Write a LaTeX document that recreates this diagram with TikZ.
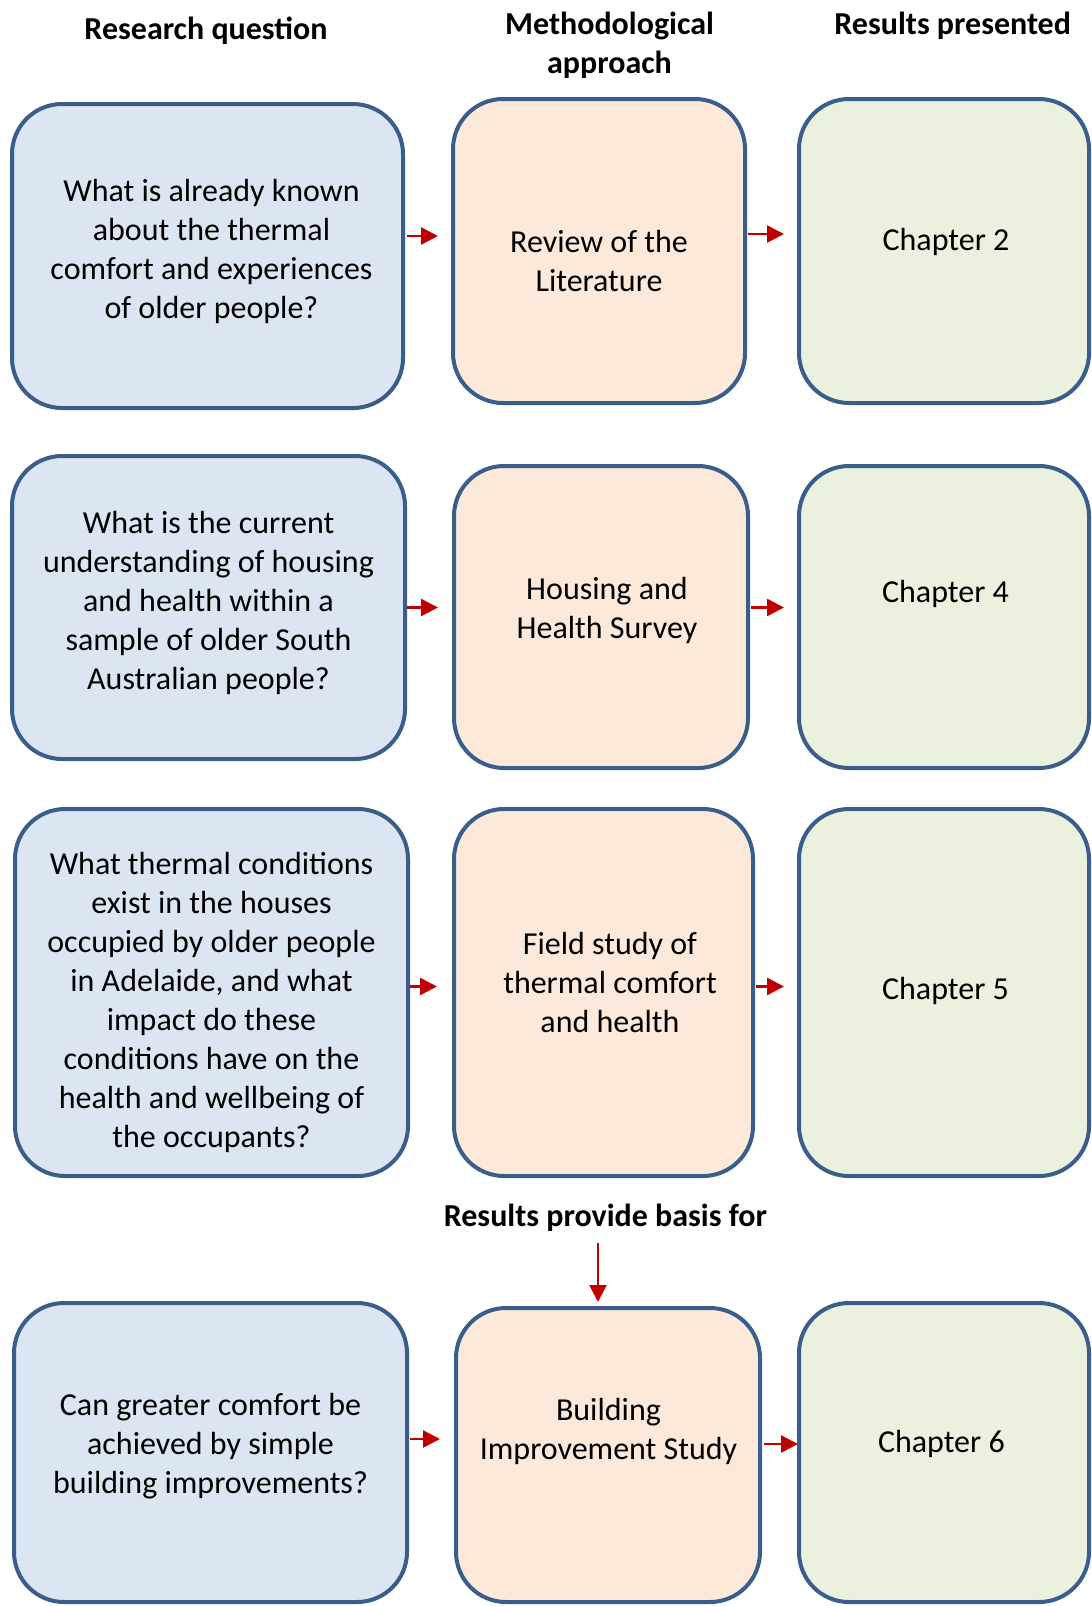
\documentclass[tikz,border=0pt]{standalone}
\usepackage{fontspec}
\setmainfont{Carlito}
\usetikzlibrary{arrows.meta}
\definecolor{bordc}{HTML}{3A5E8C}
\definecolor{bluef}{HTML}{DCE6F2}
\definecolor{orangef}{HTML}{FDE9D9}
\definecolor{greenf}{HTML}{EBF1DE}
\definecolor{arrc}{HTML}{C00000}
\tikzset{
  boxbase/.style={rectangle, rounded corners=50pt, draw=bordc, line width=4pt, outer sep=0pt, inner sep=0pt},
  bluebox/.style={boxbase, fill=bluef},
  orangebox/.style={boxbase, fill=orangef},
  greenbox/.style={boxbase, fill=greenf},
  txt/.style={align=center, inner sep=0pt, yshift=-2.5pt, font=\fontsize{32}{39}\selectfont},
  hdr/.style={align=center, inner sep=0pt, yshift=-2.5pt, font=\fontsize{32}{39}\selectfont\bfseries},
  arr/.style={draw=arrc, line width=2.5pt, -{Triangle[length=17pt,width=17pt]}}
}
\begin{document}
\begin{tikzpicture}[x=1pt,y=-1pt]
\useasboundingbox[fill=white] (0,0) rectangle (1092,1606);
% headers
\node[hdr] (h1) at (206,28.7) {Research question};
\node[hdr] (h2) at (609.5,43) {Methodological\\approach};
\node[hdr] (h3) at (952.7,23.6) {Results presented};
\node[hdr] (h4) at (605.4,1215) {Results provide basis for};
% row 1
\node[bluebox, minimum width=391pt, minimum height=304pt] (b1) at (207.5,256) {};
\node[orangebox, minimum width=292pt, minimum height=304pt] (o1) at (599,251) {};
\node[greenbox, minimum width=290pt, minimum height=304pt] (g1) at (944,251) {};
\node[txt] (b1t) at (211.5,249) {What is already known\\about the thermal\\comfort and experiences\\of older people?};
\node[txt] (o1t) at (599,258.7) {Review of the\\Literature};
\node[txt] (g1t) at (946,239.7) {Chapter 2};
% row 2
\node[bluebox, minimum width=393pt, minimum height=303pt] (b2) at (208.5,607.5) {};
\node[orangebox, minimum width=294pt, minimum height=302pt] (o2) at (601,617) {};
\node[greenbox, minimum width=290pt, minimum height=302pt] (g2) at (944,617) {};
\node[txt] (b2t) at (208.5,600.8) {What is the current\\understanding of housing\\and health within a\\sample of older South\\Australian people?};
\node[txt] (o2t) at (607,608) {Housing and\\Health Survey};
\node[txt] (g2t) at (945.5,591) {Chapter 4};
% row 3
\node[bluebox, minimum width=393pt, minimum height=367pt] (b3) at (211.5,992.5) {};
\node[orangebox, minimum width=299pt, minimum height=367pt] (o3) at (603.5,992.5) {};
\node[greenbox, minimum width=290pt, minimum height=367pt] (g3) at (944,992.5) {};
\node[txt] (b3t) at (211.5,1000.3) {What thermal conditions\\exist in the houses\\occupied by older people\\in Adelaide, and what\\impact do these\\conditions have on the\\health and wellbeing of\\the occupants?};
\node[txt] (o3t) at (610,980.4) {Field study of\\thermal comfort\\and health};
\node[txt] (g3t) at (945.5,988.5) {Chapter 5};
% row 4
\node[bluebox, minimum width=393pt, minimum height=299pt] (b4) at (210.5,1452.5) {};
\node[orangebox, minimum width=304pt, minimum height=294pt] (o4) at (608,1455) {};
\node[greenbox, minimum width=290pt, minimum height=299pt] (g4) at (944,1452.5) {};
\node[txt] (b4t) at (210.5,1443.4) {Can greater comfort be\\achieved by simple\\building improvements?};
\node[txt] (o4t) at (608.5,1429) {Building\\Improvement Study};
\node[txt] (g4t) at (941.4,1441.3) {Chapter 6};
% arrows
\draw[arr] ([xshift=4pt,yshift=20pt]b1.east) -- ([xshift=-15pt,yshift=15pt]o1.west);
\draw[arr] ([xshift=3pt,yshift=17pt]o1.east) -- ([xshift=-15pt,yshift=17pt]g1.west);
\draw[arr] ([xshift=2pt,yshift=0pt]b2.east) -- ([xshift=-16pt,yshift=9.5pt]o2.west);
\draw[arr] ([xshift=3pt,yshift=9.5pt]o2.east) -- ([xshift=-15pt,yshift=9.5pt]g2.west);
\draw[arr] ([xshift=2pt,yshift=6pt]b3.east) -- ([xshift=-17pt,yshift=6pt]o3.west);
\draw[arr] ([xshift=3pt,yshift=6pt]o3.east) -- ([xshift=-15pt,yshift=6pt]g3.west);
\draw[arr] ([xshift=3pt,yshift=13.5pt]b4.east) -- ([xshift=-16pt,yshift=16pt]o4.west);
\draw[arr] ([xshift=4pt,yshift=11pt]o4.east) -- ([xshift=-1pt,yshift=8.5pt]g4.west);
\draw[arr] ([xshift=-7.4pt,yshift=-25.5pt]h4.center) -- ([xshift=-10pt,yshift=6pt]o4.north);
\end{tikzpicture}
\end{document}
